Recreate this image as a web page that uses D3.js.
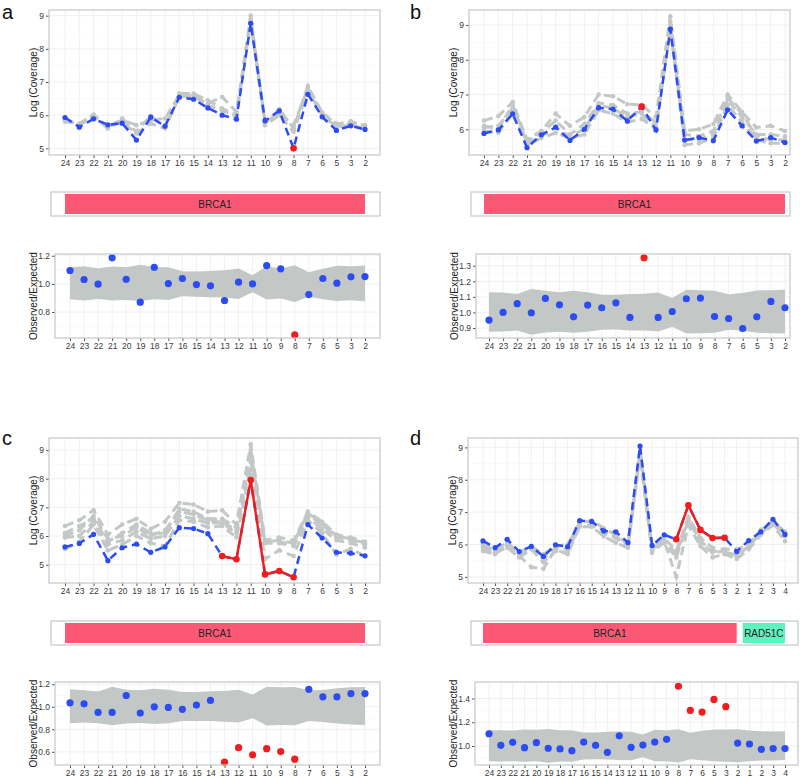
<!DOCTYPE html>
<html><head><meta charset="utf-8">
<script src="https://cdn.jsdelivr.net/npm/d3@7"></script>
<style>body{margin:0;background:#fff}svg{display:block;font-family:"Liberation Sans",Arial,sans-serif}</style>
</head><body><svg id="c" width="800" height="778"></svg>
<script>
// ---------- DATA ----------
const exonsBRCA1 = ["24","23","22","21","20","19","18","17","16","15","14","13","12","11","10","9","8","7","6","5","3","2"];
const exonsD = ["24","23","22","21","20","19","18","17","16","15","14","13","12","11","10","9","8","7","6","5","3","2","1","2","3","4"];

const aSample = [5.93,5.64,5.89,5.71,5.76,5.25,5.94,5.67,6.54,6.48,6.22,6.00,5.88,8.77,5.83,6.13,5.00,6.63,5.95,5.54,5.68,5.57];
const aRef1 = [5.85,5.72,6.02,5.60,5.90,5.50,5.98,5.62,6.65,6.65,6.45,6.20,6.00,9.00,5.75,6.18,5.60,6.88,6.08,5.72,5.82,5.65];
const aRef2 = [5.80,5.75,6.00,5.65,5.85,5.70,5.85,5.90,6.60,6.55,6.35,6.55,6.10,8.90,5.80,6.05,5.70,6.80,6.05,5.75,5.75,5.70];
const aRef3 = [5.90,5.70,5.95,5.62,5.80,5.45,5.75,5.60,6.55,6.60,6.30,6.15,5.95,8.80,5.70,6.00,5.50,6.75,6.00,5.65,5.70,5.60];
const aOutliers = [16];
const aRatio = [1.095,1.031,0.998,1.185,1.033,0.870,1.118,1.002,1.038,0.995,0.986,0.882,1.012,1.000,1.130,1.107,0.638,0.924,1.038,1.005,1.050,1.052];
const aBandHi = [1.118,1.125,1.111,1.123,1.118,1.135,1.120,1.118,1.090,1.088,1.092,1.097,1.109,1.062,1.125,1.109,1.133,1.083,1.107,1.128,1.125,1.130];
const aBandLo = [0.891,0.882,0.893,0.882,0.886,0.879,0.891,0.886,0.912,0.908,0.905,0.903,0.893,0.941,0.889,0.896,0.872,0.908,0.891,0.879,0.884,0.877];

const bSample = [5.88,5.98,6.44,5.47,5.84,6.06,5.68,6.00,6.62,6.58,6.24,6.65,5.98,8.88,5.69,5.76,5.67,6.56,6.10,5.66,5.76,5.62];
const bRef1 = [6.25,6.38,6.78,5.70,5.95,6.45,6.10,6.35,7.00,6.95,6.72,6.70,6.35,9.25,5.95,6.00,6.15,7.00,6.50,6.05,6.10,5.95];
const bRef2 = [6.05,6.10,6.60,5.65,5.90,6.25,5.85,6.15,6.75,6.70,6.45,6.50,6.20,9.10,5.85,5.80,5.95,6.85,6.35,5.85,5.85,5.80];
const bRef3 = [5.95,5.90,6.50,5.55,5.75,5.90,5.75,5.85,6.55,6.45,6.20,6.30,6.00,8.90,5.55,5.60,5.75,6.70,6.20,5.70,5.60,5.60];
const bRef4 = [6.10,6.00,6.70,5.60,5.80,6.05,5.80,6.00,6.70,6.60,6.35,6.45,6.05,9.00,5.70,5.70,5.85,6.90,6.45,5.80,5.70,5.70];
const bOutliers = [11];
const bRatio = [0.951,1.000,1.056,0.998,1.090,1.049,0.972,1.047,1.030,1.062,0.968,1.351,0.968,1.006,1.088,1.092,0.974,0.961,0.897,0.972,1.071,1.030];
const bBandHi = [1.130,1.128,1.118,1.150,1.139,1.130,1.139,1.130,1.113,1.113,1.118,1.120,1.128,1.092,1.145,1.143,1.139,1.116,1.124,1.141,1.143,1.145];
const bBandLo = [0.876,0.878,0.884,0.857,0.872,0.876,0.870,0.876,0.889,0.891,0.884,0.884,0.878,0.908,0.865,0.867,0.870,0.889,0.882,0.870,0.867,0.865];

const cSample = [5.62,5.74,6.06,5.14,5.59,5.72,5.43,5.62,6.29,6.26,6.08,5.30,5.19,7.95,4.66,4.78,4.56,6.40,5.93,5.43,5.40,5.31];
const cRef1 = [6.35,6.55,6.90,6.05,6.40,6.60,6.25,6.50,7.15,7.10,6.85,6.90,6.40,9.20,5.85,5.95,5.85,6.85,6.50,6.05,5.95,5.80];
const cRef2 = [6.00,6.20,6.70,5.90,6.00,6.30,6.00,6.20,6.85,6.75,6.55,6.50,6.20,8.90,5.80,5.80,5.70,6.75,6.40,5.95,5.85,5.70];
const cRef3 = [5.95,6.00,6.50,5.70,5.85,6.15,5.90,6.00,6.70,6.60,6.45,6.45,6.10,8.60,5.75,5.75,5.65,6.65,6.25,5.85,5.75,5.60];
const cRef4 = [5.55,5.80,6.40,5.50,5.70,6.00,5.75,5.65,6.55,6.50,6.30,6.35,5.95,8.30,5.20,5.50,5.30,6.55,6.10,5.35,5.55,5.30];
const cRef5 = [6.10,6.35,6.60,5.80,6.10,6.40,6.10,6.10,6.95,6.85,6.60,6.60,6.30,9.00,5.80,5.85,5.75,6.80,6.45,6.00,5.90,5.75];
const cOutliers = [11,12,13,14,15,16];
const cRatio = [1.035,1.026,0.950,0.950,1.100,0.944,1.000,0.994,0.977,1.015,1.056,0.508,0.637,0.573,0.628,0.602,0.535,1.155,1.088,1.088,1.117,1.117];
const cBandHi = [1.155,1.146,1.135,1.178,1.152,1.146,1.161,1.152,1.132,1.132,1.138,1.140,1.152,1.108,1.178,1.173,1.176,1.146,1.149,1.164,1.173,1.176];
const cBandLo = [0.854,0.860,0.854,0.836,0.851,0.857,0.848,0.854,0.874,0.874,0.874,0.868,0.860,0.898,0.833,0.839,0.836,0.874,0.865,0.851,0.842,0.839];

const dSample = [6.11,5.90,6.16,5.78,5.94,5.63,5.99,5.93,6.74,6.71,6.42,6.39,6.06,9.04,5.97,6.30,6.16,7.21,6.45,6.20,6.21,5.78,6.12,6.39,6.78,6.31];
const dRef1 = [5.95,5.85,6.05,5.75,5.95,5.70,5.95,6.00,6.65,6.75,6.50,6.30,6.00,8.95,5.90,6.20,5.80,6.85,6.20,5.90,5.85,5.85,6.00,6.45,6.70,6.40];
const dRef2 = [5.80,5.70,5.95,5.65,5.30,5.25,5.85,5.70,6.55,6.55,6.25,6.05,5.90,8.80,5.75,6.10,5.00,6.60,5.95,5.60,5.70,5.55,5.85,6.30,6.60,6.10];
const dRef3 = [5.90,5.75,5.90,5.60,5.85,5.45,5.80,5.75,6.60,6.60,6.35,6.20,5.95,8.70,5.80,6.05,5.60,6.75,6.05,5.75,5.80,5.65,5.95,6.35,6.65,6.25];
const dRef4 = [6.00,5.80,6.00,5.70,5.90,5.55,5.90,5.85,6.70,6.70,6.45,6.25,6.00,8.90,5.85,6.15,5.70,6.80,6.10,5.80,5.75,5.70,5.90,6.40,6.75,6.35];
const dOutliers = [16,17,18,19,20];
const dRatio = [1.103,1.006,1.031,0.986,1.028,0.981,0.975,0.961,1.033,1.006,0.947,1.086,0.989,1.008,1.033,1.056,1.503,1.300,1.286,1.392,1.331,1.025,1.017,0.972,0.978,0.978];
const dBandHi = [1.133,1.133,1.131,1.139,1.136,1.144,1.133,1.133,1.114,1.114,1.119,1.122,1.119,1.097,1.136,1.133,1.142,1.111,1.128,1.139,1.139,1.142,1.131,1.125,1.122,1.125];
const dBandLo = [0.872,0.869,0.872,0.867,0.872,0.858,0.869,0.867,0.886,0.889,0.886,0.883,0.881,0.906,0.872,0.872,0.861,0.889,0.881,0.872,0.867,0.864,0.872,0.878,0.878,0.883];

// genes: span in exon index units
const genesBRCA1 = [{name:"BRCA1", from:0, to:21, color:"#fb5876"}];
const genesD = [{name:"BRCA1", from:0, to:21, color:"#fb5876"},{name:"RAD51C", from:21.5, to:25, color:"#5cf3bf"}];

const covTicksA = [5,6,7,8,9], covTicksB = [6,7,8,9];
const ratioTicksA = [0.8,1.0,1.2], ratioTicksB = [0.9,1.0,1.1,1.2,1.3], ratioTicksC = [0.6,0.8,1.0,1.2], ratioTicksD = [1.0,1.2,1.4];

// ---------- LAYOUT ----------
const panels = [
 {letter:"a", lx:2, ly:19, labels:exonsBRCA1, sample:aSample, refs:[aRef1,aRef2,aRef3], out:aOutliers, ratio:aRatio, hi:aBandHi, lo:aBandLo, genes:genesBRCA1,
  top:{x0:49,x1:380,y0:10,y1:155,c0:65,c1:365,dom:[4.8,9.17],ticks:covTicksA},
  gene:{x0:51,x1:380,y0:192,y1:216},
  bot:{x0:55,x1:380,y0:254,y1:338,c0:70,c1:365,dom:[0.616,1.212],ticks:ratioTicksA,fmt:".1f"}},
 {letter:"b", lx:410, ly:19, labels:exonsBRCA1, sample:bSample, refs:[bRef1,bRef2,bRef3,bRef4], out:bOutliers, ratio:bRatio, hi:bBandHi, lo:bBandLo, genes:genesBRCA1,
  top:{x0:469,x1:790,y0:10,y1:155,c0:484,c1:785,dom:[5.26,9.43],ticks:covTicksB},
  gene:{x0:471,x1:790,y0:192,y1:216},
  bot:{x0:476,x1:790,y0:254,y1:338,c0:489,c1:785,dom:[0.836,1.375],ticks:ratioTicksB,fmt:".1f"}},
 {letter:"c", lx:2, ly:445, labels:exonsBRCA1, sample:cSample, refs:[cRef1,cRef5,cRef2,cRef3,cRef4], out:cOutliers, ratio:cRatio, hi:cBandHi, lo:cBandLo, genes:genesBRCA1,
  top:{x0:49,x1:380,y0:438,y1:583,c0:65,c1:365,dom:[4.36,9.42],ticks:covTicksA},
  gene:{x0:51,x1:380,y0:621,y1:645},
  bot:{x0:55,x1:380,y0:682,y1:765,c0:70,c1:365,dom:[0.483,1.22],ticks:ratioTicksC,fmt:".1f"}},
 {letter:"d", lx:410, ly:445, labels:exonsD, sample:dSample, refs:[dRef1,dRef2,dRef3,dRef4], out:dOutliers, ratio:dRatio, hi:dBandHi, lo:dBandLo, genes:genesD,
  top:{x0:468,x1:798,y0:438,y1:583,c0:483,c1:785,dom:[4.81,9.29],ticks:covTicksA},
  gene:{x0:471,x1:798,y0:621,y1:645},
  bot:{x0:475,x1:798,y0:682,y1:765,c0:489,c1:785,dom:[0.84,1.539],ticks:ratioTicksD,fmt:".1f"}}
];

const BLUE="#2b4cf2", RED="#f31c1c", GREYL="#c3c7c6", BAND="#c3c8c7", BORDER="#c4c9c9", GRID="#ececec", GRIDMIN="#f6f6f6", TXT="#3a3a3a";
const svg = d3.select("#c");

function frame(g, L, n, yTitle, labels, fmt){
  const idx = d3.range(n);
  const x = d3.scaleLinear().domain([0,n-1]).range([L.c0,L.c1]);
  const y = d3.scaleLinear().domain(L.dom).range([L.y1,L.y0]);
  const minor = [];
  for(let i=0;i<L.ticks.length-1;i++) minor.push((L.ticks[i]+L.ticks[i+1])/2);
  const st = L.ticks[1]-L.ticks[0];
  minor.push(L.ticks[0]-st/2, L.ticks[L.ticks.length-1]+st/2);
  g.append("g").selectAll("line").data(minor.filter(v=>v>L.dom[0]&&v<L.dom[1])).join("line")
    .attr("x1",L.x0).attr("x2",L.x1).attr("y1",d=>y(d)).attr("y2",d=>y(d)).attr("stroke",GRIDMIN).attr("stroke-width",0.6);
  g.append("g").selectAll("line").data(L.ticks).join("line")
    .attr("x1",L.x0).attr("x2",L.x1).attr("y1",d=>y(d)).attr("y2",d=>y(d)).attr("stroke",GRID).attr("stroke-width",0.8);
  g.append("g").selectAll("line").data(idx).join("line")
    .attr("y1",L.y0).attr("y2",L.y1).attr("x1",d=>x(d)).attr("x2",d=>x(d)).attr("stroke",GRID).attr("stroke-width",0.8);
  const xa = d3.axisBottom(x).tickValues(idx).tickFormat(i=>labels[i]).tickSize(3).tickPadding(1.5);
  const gx = g.append("g").attr("transform",`translate(0,${L.y1})`).call(xa);
  const ya = d3.axisLeft(y).tickValues(L.ticks).tickFormat(fmt?d3.format(fmt):d3.format("d")).tickSize(3).tickPadding(2);
  const gy = g.append("g").attr("transform",`translate(${L.x0},0)`).call(ya);
  [gx,gy].forEach(a=>{a.select(".domain").remove(); a.selectAll("line").attr("stroke","#555");
    a.selectAll("text").attr("fill",TXT).style("font-size","8.5px").style("font-family","'Liberation Sans',Arial,sans-serif");});
  g.append("text").attr("transform",`translate(${L.x0 - (fmt?18:12)},${(L.y0+L.y1)/2}) rotate(-90)`)
    .attr("text-anchor","middle").attr("fill","#222").style("font-size","10px").text(yTitle);
  return {x,y};
}
function border(g,L){
  g.append("rect").attr("x",L.x0).attr("y",L.y0).attr("width",L.x1-L.x0).attr("height",L.y1-L.y0)
    .attr("fill","none").attr("stroke",BORDER).attr("stroke-width",1.2);
}

panels.forEach(P=>{
  const n = P.labels.length;
  const g = svg.append("g");
  g.append("text").attr("x",P.lx).attr("y",P.ly).attr("fill","#111").style("font-size","20px").text(P.letter);

  const T = P.top;
  const s1 = frame(g,T,n,"Log (Coverage)",P.labels,null);
  const line = d3.line().x((d,i)=>s1.x(i)).y(d=>s1.y(d));
  P.refs.forEach(r=>{
    g.append("path").attr("d",line(r)).attr("fill","none").attr("stroke",GREYL).attr("stroke-width",3)
      .attr("stroke-dasharray","9,5");
    g.append("g").selectAll("circle").data(r).join("circle").attr("cx",(d,i)=>s1.x(i)).attr("cy",d=>s1.y(d))
      .attr("r",2.3).attr("fill",GREYL);
  });
  g.append("path").attr("d",line(P.sample)).attr("fill","none").attr("stroke",BLUE).attr("stroke-width",2.5)
    .attr("stroke-dasharray","8,5");
  const outSet = new Set(P.out);
  const redLine = d3.line().defined((d,i)=>outSet.has(i)).x((d,i)=>s1.x(i)).y(d=>s1.y(d));
  g.append("path").attr("d",redLine(P.sample)).attr("fill","none").attr("stroke",RED).attr("stroke-width",2.4);
  g.append("g").selectAll("circle").data(P.sample).join("circle").attr("cx",(d,i)=>s1.x(i)).attr("cy",d=>s1.y(d))
    .attr("r",(d,i)=>outSet.has(i)?3.3:2.6).attr("fill",(d,i)=>outSet.has(i)?RED:BLUE);
  border(g,T);

  const G = P.gene;
  const gx = d3.scaleLinear().domain([0,n-1]).range([T.c0,T.c1]);
  g.append("rect").attr("x",G.x0).attr("y",G.y0).attr("width",G.x1-G.x0).attr("height",G.y1-G.y0)
    .attr("fill","#fff").attr("stroke",BORDER).attr("stroke-width",1.2);
  P.genes.forEach(ge=>{
    g.append("rect").attr("x",gx(ge.from)).attr("y",G.y0+2).attr("width",gx(ge.to)-gx(ge.from)).attr("height",G.y1-G.y0-4)
      .attr("fill",ge.color);
    g.append("text").attr("x",(gx(ge.from)+gx(ge.to))/2).attr("y",(G.y0+G.y1)/2+3.5).attr("text-anchor","middle")
      .attr("fill","#222").style("font-size","10px").text(ge.name);
  });

  const B = P.bot;
  const s2 = frame(g,B,n,"Observed/Expected",P.labels,B.fmt);
  const area = d3.area().x((d,i)=>s2.x(i)).y0((d,i)=>s2.y(P.lo[i])).y1(d=>s2.y(d));
  g.append("path").attr("d",area(P.hi)).attr("fill",BAND);
  g.append("g").selectAll("circle").data(P.ratio).join("circle").attr("cx",(d,i)=>s2.x(i)).attr("cy",d=>s2.y(d))
    .attr("r",3.6).attr("fill",(d,i)=>outSet.has(i)?RED:BLUE);
  border(g,B);
});
</script></body></html>
